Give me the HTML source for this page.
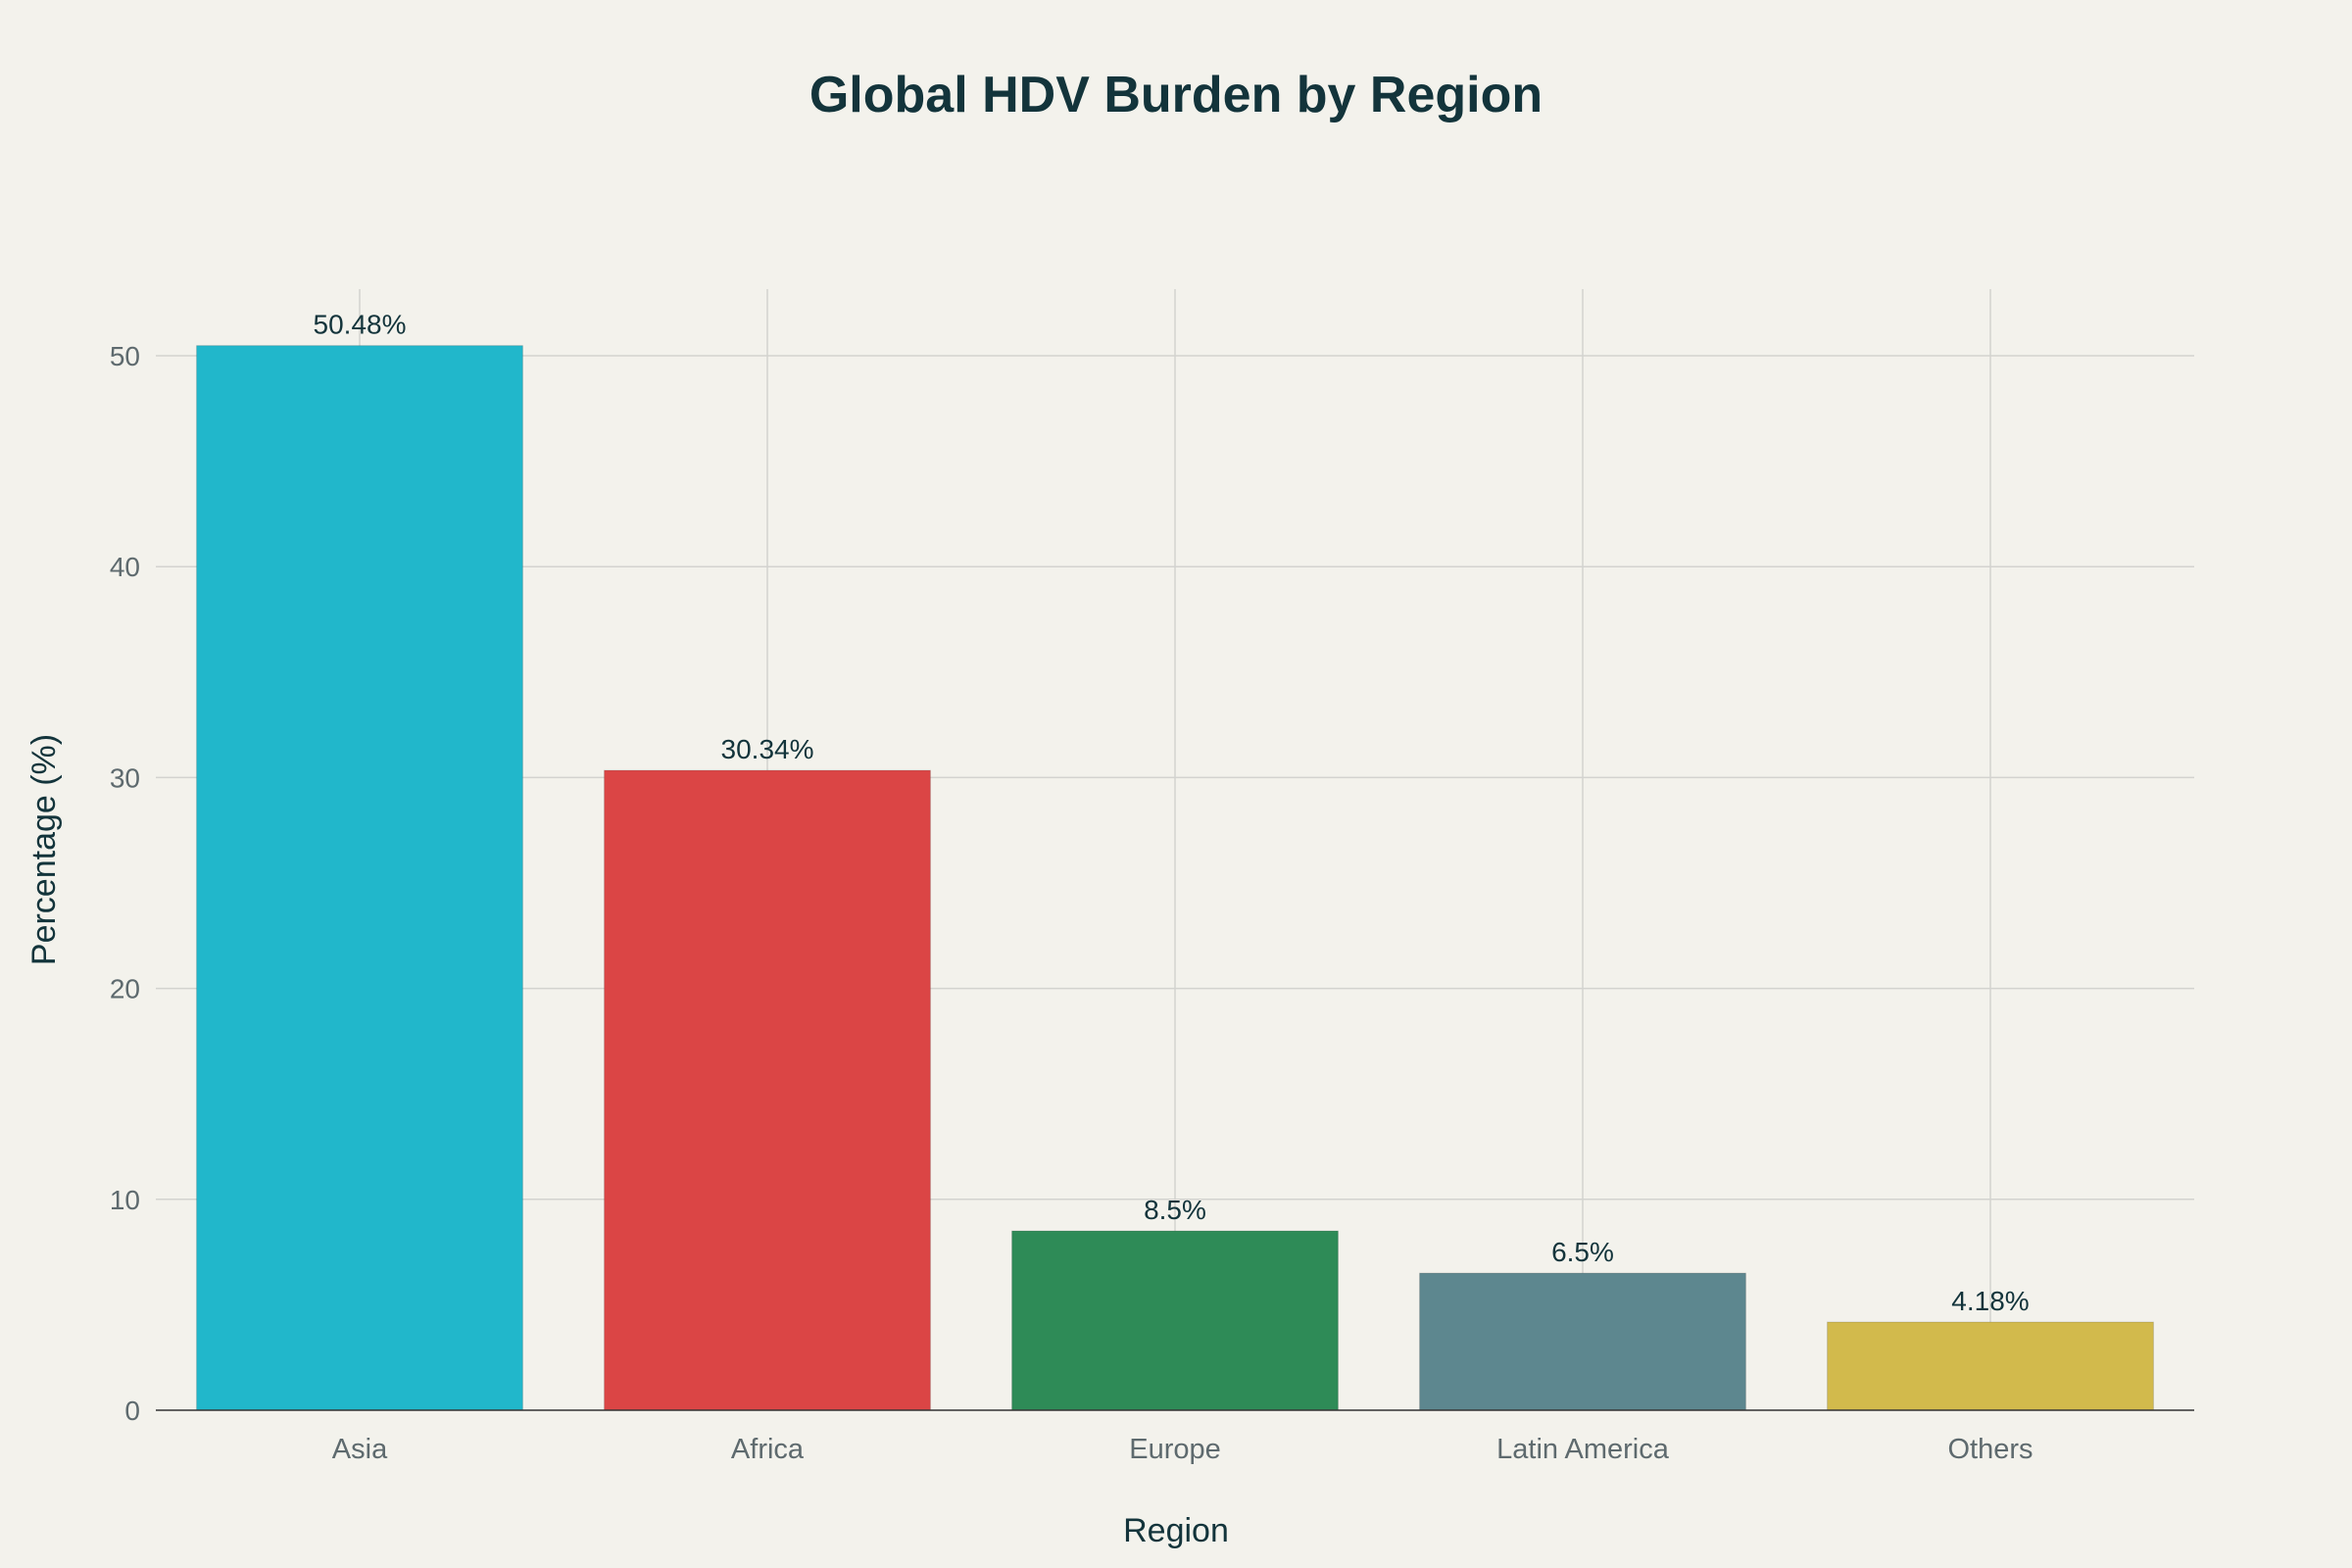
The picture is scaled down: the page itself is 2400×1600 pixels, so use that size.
<!DOCTYPE html>
<html><head><meta charset="utf-8"><style>
html,body{margin:0;padding:0;background:#f3f2ec;}
svg{display:block;font-family:"Liberation Sans",sans-serif;}
</style></head><body>
<svg id="chart" width="2400" height="1600" viewBox="0 0 2400 1600">
<rect width="2400" height="1600" fill="#f3f2ec"/>
<text x="1200" y="114" text-anchor="middle" font-size="52" font-weight="bold" fill="#13343b">Global HDV Burden by Region</text>
<g id="grid"></g><g id="bars"></g><g id="labels"></g>
<text x="1200" y="1573" text-anchor="middle" font-size="34" fill="#13343b">Region</text>
<text transform="translate(56,867) rotate(-90)" text-anchor="middle" font-size="34" fill="#13343b">Percentage (%)</text>
</svg>
<script>
const categories = ["Asia","Africa","Europe","Latin America","Others"];
const values = [50.48,30.34,8.5,6.5,4.18];
const valueLabels = ["50.48%","30.34%","8.5%","6.5%","4.18%"];
const colors = ["#21b7cb","#db4545","#2e8b57","#5d878f","#d2ba4c"];
const yTicks = [0,10,20,30,40,50];
const NS="http://www.w3.org/2000/svg";
const L=159,R=2239,T=295,Y0=1439,Y50=363;
const y=v=>Y0+(Y50-Y0)*v/50;
const band=(R-L)/categories.length;
const xc=i=>L+band*(i+0.5);
function mk(tag,attrs,parent,txt){const e=document.createElementNS(NS,tag);for(const k in attrs)e.setAttribute(k,attrs[k]);if(txt!==undefined)e.textContent=txt;document.getElementById(parent).appendChild(e);return e;}
yTicks.forEach(t=>{
  if(t>0){const g=mk("line",{x1:L,x2:R,y1:y(t),y2:y(t),stroke:"#d3d3cf","stroke-width":1.5},"grid");
  
  }
  const l=mk("text",{x:L-16,y:y(t)+10,"text-anchor":"end","font-size":28,fill:"#5e6a6e"},"labels",String(t));
  
  
});
categories.forEach((c,i)=>{
  const g=mk("line",{x1:xc(i),x2:xc(i),y1:T,y2:Y0,stroke:"#d3d3cf","stroke-width":1.5},"grid");
  
  
  const bw=band*0.8;
  const b=mk("rect",{x:xc(i)-bw/2,y:y(values[i]),width:bw,height:Y0-y(values[i]),fill:colors[i],stroke:"rgba(0,0,0,0.15)","stroke-width":1},"bars");
  
  
  const v=mk("text",{x:xc(i),y:y(values[i])-12,"text-anchor":"middle","font-size":28,fill:"#13343b"},"labels",valueLabels[i]);
  
  
  const t=mk("text",{x:xc(i),y:Y0+49,"text-anchor":"middle","font-size":29,fill:"#5e6a6e"},"labels",c);
  
  
});
const ax=mk("line",{x1:L,x2:R,y1:Y0,y2:Y0,stroke:"#333","stroke-width":1.5},"labels");


</script>
</body></html>
